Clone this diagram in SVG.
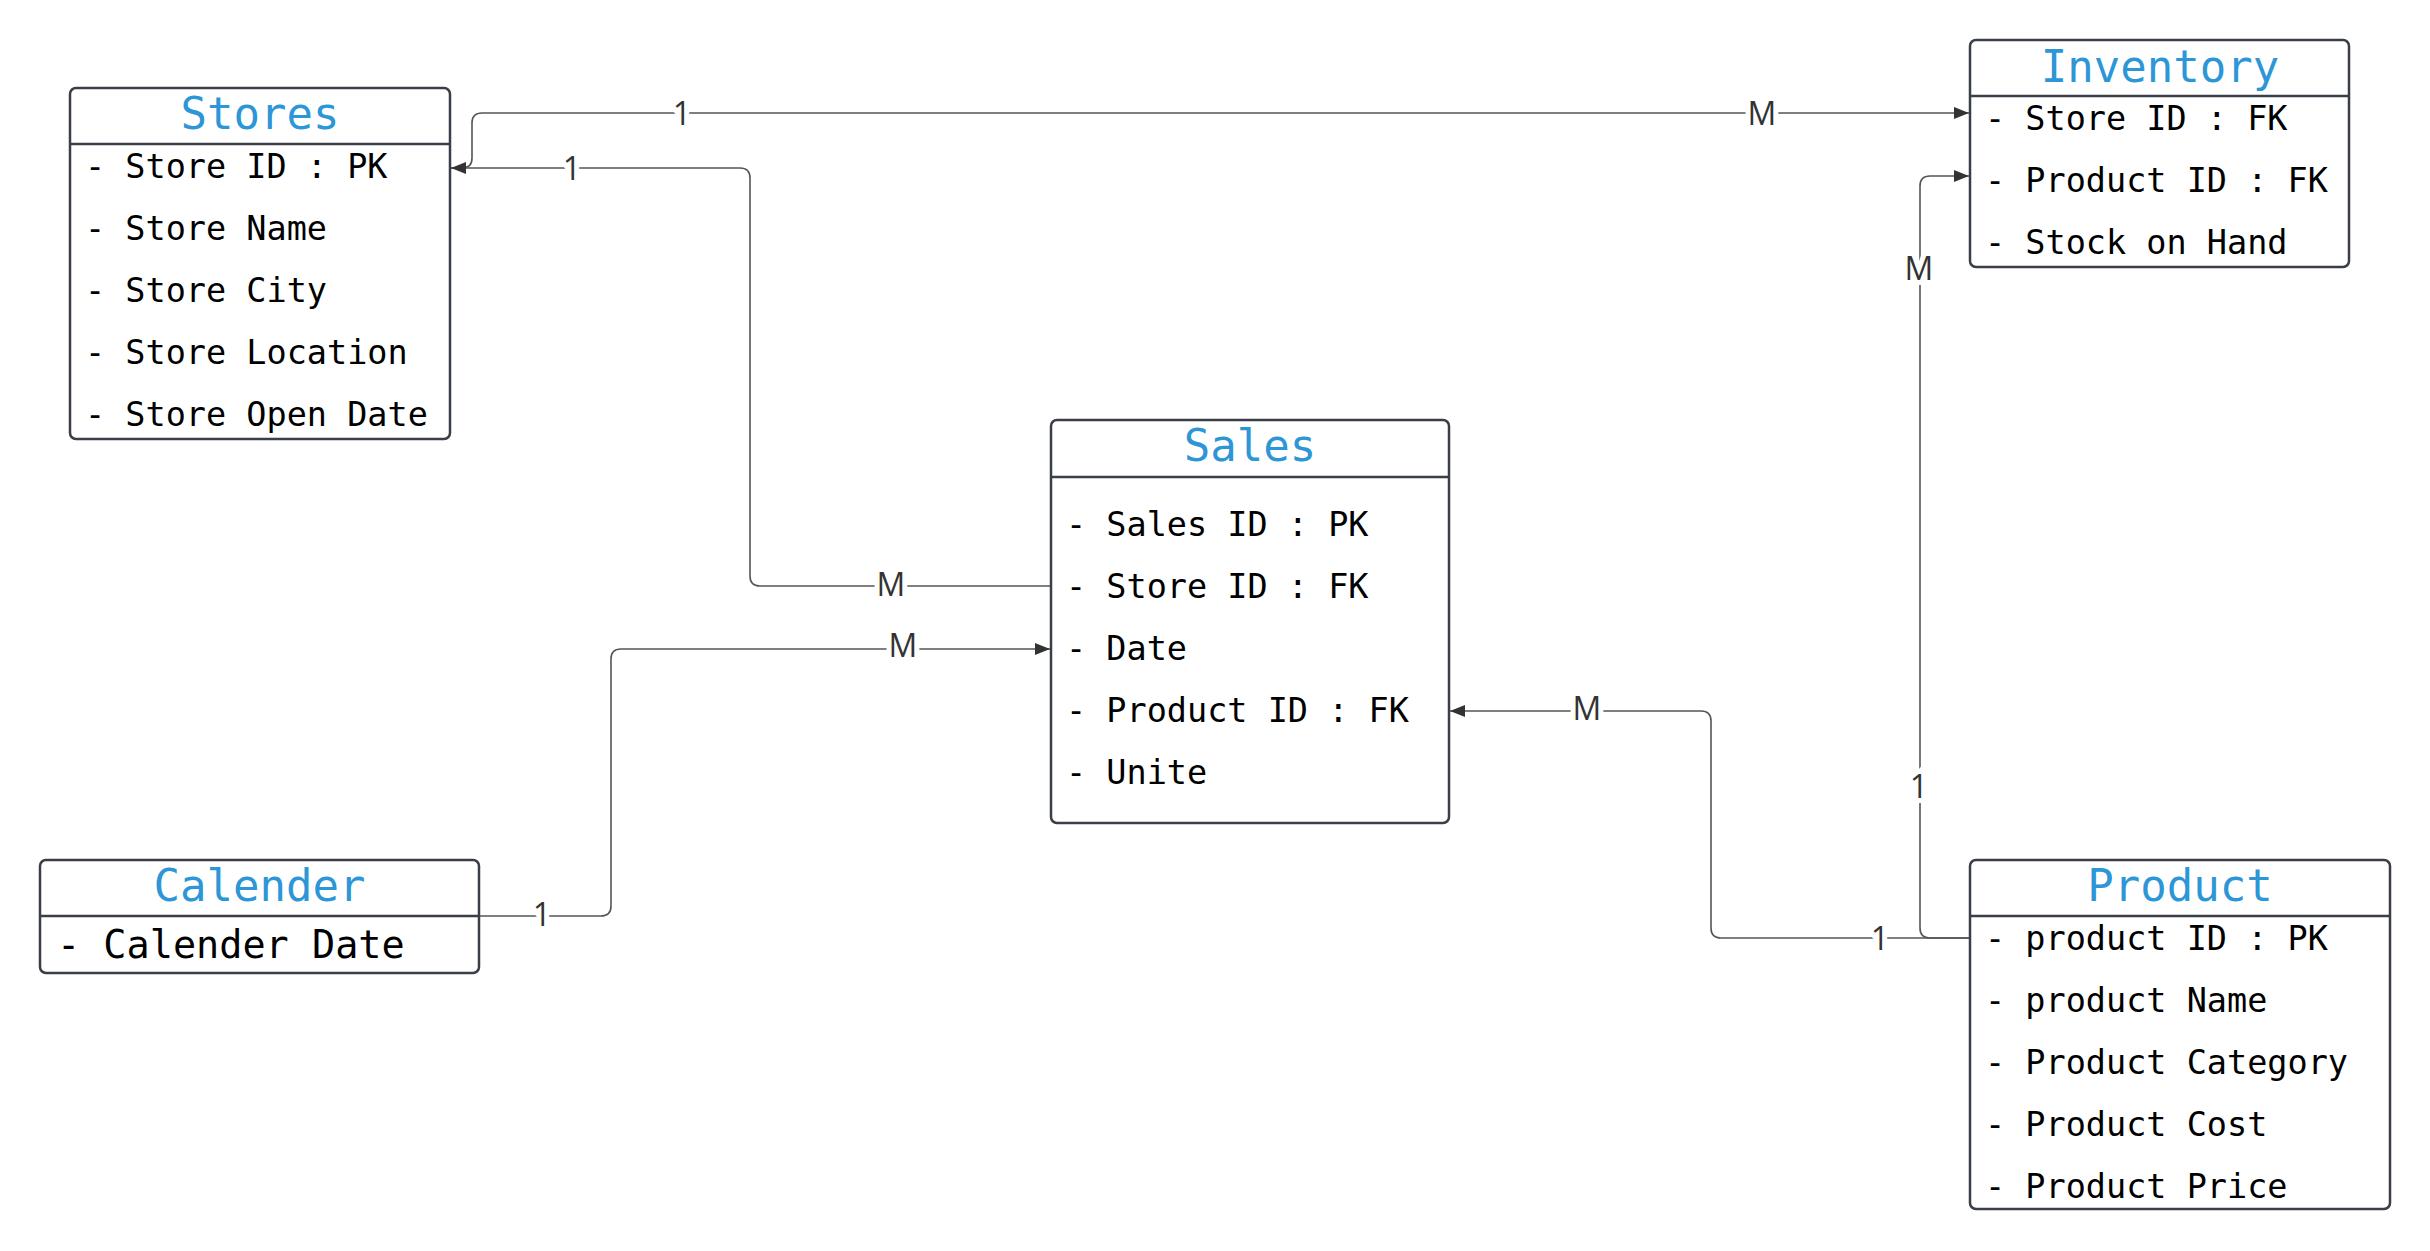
<svg xmlns="http://www.w3.org/2000/svg" width="2430" height="1251" viewBox="0 0 2430 1251">
<style>
.box{fill:#fff;stroke:#3a3f47;stroke-width:2.5}
.div{stroke:#3a3f47;stroke-width:2.5}
.title{font-family:"DejaVu Sans Mono",monospace;font-size:44px;fill:#2d96d6;text-anchor:middle}
.row{font-family:"DejaVu Sans Mono",monospace;font-size:33.5px;fill:#000}
.row2{font-family:"DejaVu Sans Mono",monospace;font-size:38.5px;fill:#000}
.conn{fill:none;stroke:#555;stroke-width:1.6}
.lbl{font-family:"Open Sans",sans-serif;font-size:32px;fill:#333;text-anchor:middle;stroke:#fff;stroke-width:10;paint-order:stroke}
</style>
<defs>
<marker id="arr" markerUnits="userSpaceOnUse" markerWidth="16" markerHeight="12" refX="15" refY="6" orient="auto">
<path d="M0,0 L15,6 L0,12 z" fill="#333"/>
</marker>
</defs>
<rect width="2430" height="1251" fill="#fff"/>
<g id="connectors">
<path class="conn" d="M450 168 H462 Q472 168 472 158 V123 Q472 113 482 113 H1969" marker-end="url(#arr)"/>
<path class="conn" d="M1051 586 H760 Q750 586 750 576 V178 Q750 168 740 168 H451" marker-end="url(#arr)"/>
<path class="conn" d="M479 916 H601 Q611 916 611 906 V659 Q611 649 621 649 H1050" marker-end="url(#arr)"/>
<path class="conn" d="M1970 938 H1721 Q1711 938 1711 928 V721 Q1711 711 1701 711 H1450" marker-end="url(#arr)"/>
<path class="conn" d="M1970 938 H1930 Q1920 938 1920 928 V186 Q1920 176 1930 176 H1969" marker-end="url(#arr)"/>
<text class="lbl" x="682" y="125">1</text>
<text class="lbl" x="1762" y="125">M</text>
<text class="lbl" x="572" y="180">1</text>
<text class="lbl" x="891" y="596">M</text>
<text class="lbl" x="542" y="926">1</text>
<text class="lbl" x="903" y="657">M</text>
<text class="lbl" x="1587" y="720">M</text>
<text class="lbl" x="1880" y="950">1</text>
<text class="lbl" x="1919" y="280">M</text>
<text class="lbl" x="1919" y="798">1</text>
</g>
<g id="stores">
<rect class="box" x="70" y="88" width="380" height="351" rx="6"/>
<line class="div" x1="70" y1="144" x2="450" y2="144"/>
<text class="title" x="260" y="129">Stores</text>
<text class="row" x="85" y="178">- Store ID : PK</text>
<text class="row" x="85" y="240">- Store Name</text>
<text class="row" x="85" y="302">- Store City</text>
<text class="row" x="85" y="364">- Store Location</text>
<text class="row" x="85" y="426">- Store Open Date</text>
</g>
<g id="inventory">
<rect class="box" x="1970" y="40" width="379" height="227" rx="6"/>
<line class="div" x1="1970" y1="96" x2="2349" y2="96"/>
<text class="title" x="2160" y="82">Inventory</text>
<text class="row" x="1985" y="130">- Store ID : FK</text>
<text class="row" x="1985" y="192">- Product ID : FK</text>
<text class="row" x="1985" y="254">- Stock on Hand</text>
</g>
<g id="sales">
<rect class="box" x="1051" y="420" width="398" height="403" rx="6"/>
<line class="div" x1="1051" y1="477" x2="1449" y2="477"/>
<text class="title" x="1250" y="461">Sales</text>
<text class="row" x="1066" y="536">- Sales ID : PK</text>
<text class="row" x="1066" y="598">- Store ID : FK</text>
<text class="row" x="1066" y="660">- Date</text>
<text class="row" x="1066" y="722">- Product ID : FK</text>
<text class="row" x="1066" y="784">- Unite</text>
</g>
<g id="calender">
<rect class="box" x="40" y="860" width="439" height="113" rx="6"/>
<line class="div" x1="40" y1="916" x2="479" y2="916"/>
<text class="title" x="259.5" y="901">Calender</text>
<text class="row2" x="57" y="958">- Calender Date</text>
</g>
<g id="product">
<rect class="box" x="1970" y="860" width="420" height="349" rx="6"/>
<line class="div" x1="1970" y1="916" x2="2390" y2="916"/>
<text class="title" x="2180" y="901">Product</text>
<text class="row" x="1985" y="950">- product ID : PK</text>
<text class="row" x="1985" y="1012">- product Name</text>
<text class="row" x="1985" y="1074">- Product Category</text>
<text class="row" x="1985" y="1136">- Product Cost</text>
<text class="row" x="1985" y="1198">- Product Price</text>
</g>
</svg>
